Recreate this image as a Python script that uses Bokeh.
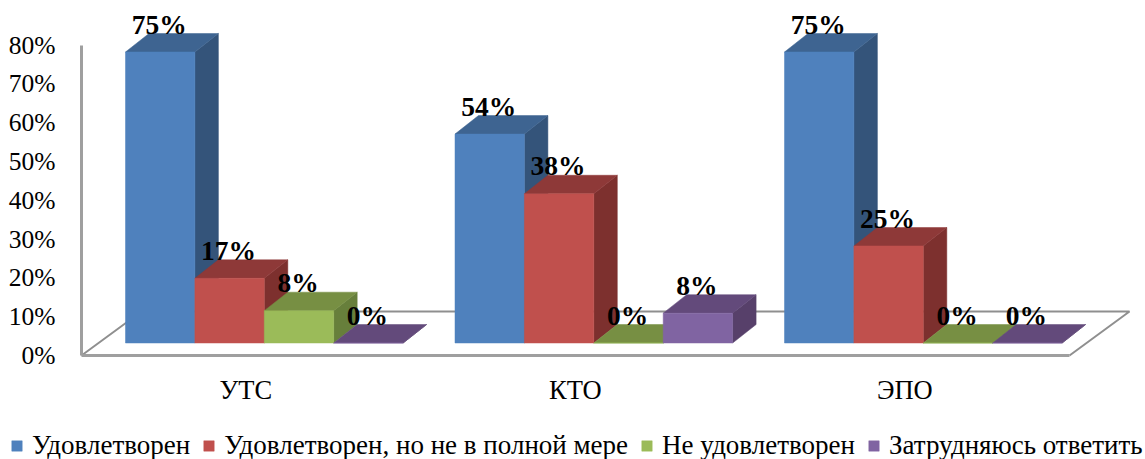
from bokeh.plotting import figure
from bokeh.models import Range1d, LinearAxis, FixedTicker, Legend, LegendItem
from bokeh.core.properties import value
from bokeh.embed import file_html
from bokeh.resources import INLINE

categories = ["УТС", "КТО", "ЭПО"]
series_names = ["Удовлетворен", "Удовлетворен, но не в полной мере", "Не удовлетворен", "Затрудняюсь ответить"]
satisfied = [75.0, 53.85, 75.0]
partly = [16.67, 38.46, 25.0]
unsatisfied = [8.33, 0.0, 0.0]
unsure = [0.0, 7.69, 0.0]
y_ticks = [0, 10, 20, 30, 40, 50, 60, 70, 80]
front_colors = ["#4f81bd", "#c0504d", "#9bbb59", "#8064a2"]
side_colors = ["#34547a", "#7d302e", "#677f3b", "#57406a"]
top_colors = ["#3e6491", "#8e3938", "#778f43", "#634a7b"]

FONT = "Liberation Serif"
PX = 3.88            # pixels per percent
BASE = 12.5 / PX     # front of the bars sits above the floor's front edge
DX, DY = 23.5, 18.5 / PX
BAR = 69.4
X0 = 125.0
GROUP = 329.5

p = figure(width=1145, height=459, output_backend="svg", toolbar_location=None,
           x_range=Range1d(0, 1145), y_range=Range1d((355 - 459) / PX, 355 / PX),
           min_border=0, outline_line_color=None)
p.grid.visible = False
p.xaxis.visible = False
p.yaxis.visible = False
p.background_fill_color = "white"

# floor of the 3-D box
fx = 60
fy = 44 / PX
p.multi_line(xs=[[81, 81 + fx, 1069 + fx, 1069]], ys=[[0, fy, fy, 0]], line_color="#8f8f8f", line_width=2)

all_series = [satisfied, partly, unsatisfied, unsure]
legend_items = []
for j, vals in enumerate(all_series):
    lefts = [X0 + GROUP * i + BAR * j for i in range(len(vals))]
    rights = [l + BAR for l in lefts]
    tops = [BASE + v for v in vals]
    top_xs = [[l, l + DX, r + DX, r] for l, r in zip(lefts, rights)]
    top_ys = [[t, t + DY, t + DY, t] for t in tops]
    side_xs = [[r, r + DX, r + DX, r] for r in rights]
    side_ys = [[BASE, BASE + DY, t + DY, t] for t in tops]
    p.patches(side_xs, side_ys, fill_color=side_colors[j], line_color=side_colors[j], line_width=0.5)
    p.patches(top_xs, top_ys, fill_color=top_colors[j], line_color=top_colors[j], line_width=0.5)
    front = p.quad(left=lefts, right=rights, bottom=[BASE] * len(vals), top=tops,
                   fill_color=front_colors[j], line_color=front_colors[j], line_width=0.5)
    legend_items.append(LegendItem(label=series_names[j], renderers=[front]))

# data labels, above all the bars
for j, vals in enumerate(all_series):
    xs = [X0 + GROUP * i + BAR * j + BAR / 2 - 1 for i in range(len(vals))]
    ys = [BASE + v + DY + 9.5 / PX for v in vals]
    txt = [f"{round(v)}%" for v in vals]
    p.text(x=xs, y=ys, text=txt, text_font=value(FONT), text_font_style="bold", text_font_size="27.5px",
           text_color="black", text_align="center", text_baseline="alphabetic")

# value axis
yax = LinearAxis(fixed_location=81, bounds=(0, 80), ticker=FixedTicker(ticks=y_ticks),
                 major_label_overrides={t: f"{t}%" for t in y_ticks})
yax.axis_line_color = "#9f9f9f"
yax.axis_line_width = 3
yax.major_tick_line_color = None
yax.minor_tick_line_color = None
yax.major_tick_out = 0
yax.major_label_standoff = 26
yax.major_label_text_font = FONT
yax.major_label_text_font_size = "25.5px"
yax.major_label_text_color = "black"
p.add_layout(yax, "left")

# category axis
centers = [X0 + GROUP * i + 2 * BAR - 18.5 for i in range(len(categories))]
xax = LinearAxis(fixed_location=0, bounds=(81, 1069), ticker=FixedTicker(ticks=centers),
                 major_label_overrides={c: n for c, n in zip(centers, categories)})
xax.axis_line_color = "#9f9f9f"
xax.axis_line_width = 3
xax.major_tick_line_color = None
xax.minor_tick_line_color = None
xax.major_tick_out = 0
xax.major_label_standoff = 19
xax.major_label_text_font = FONT
xax.major_label_text_font_size = "26.5px"
xax.major_label_text_color = "black"
p.add_layout(xax, "below")

legend = Legend(items=legend_items, orientation="horizontal", location=(10, -2),
                glyph_width=13, glyph_height=13, label_standoff=9, spacing=12,
                margin=0, padding=0, border_line_color=None, background_fill_alpha=0,
                label_text_font=FONT, label_text_font_size="27px", label_text_color="black")
p.add_layout(legend, "center")

open("out.html", "w").write(file_html(p, INLINE))
